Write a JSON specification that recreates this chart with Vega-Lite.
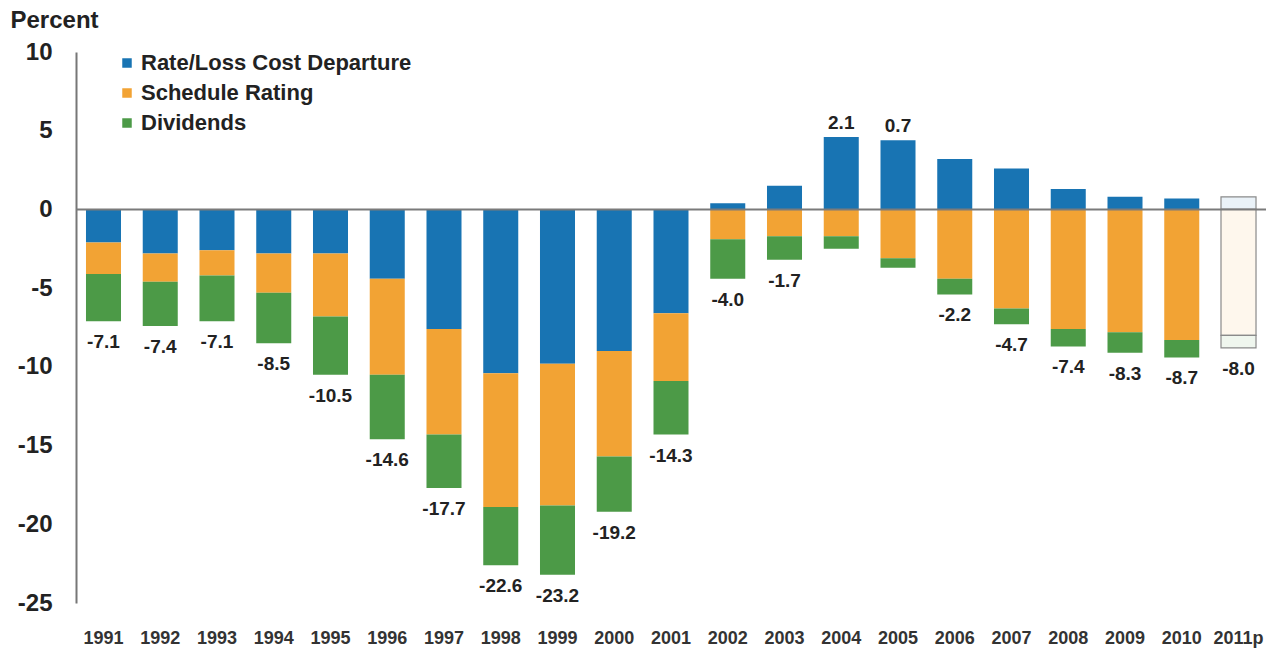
{
  "$schema": "https://vega.github.io/schema/vega-lite/v6.json",
  "width": 1190,
  "height": 551,
  "autosize": {"type": "none"},
  "padding": {"left": 76, "top": 52, "right": 0, "bottom": 51},
  "background": "white",
  "config": {
    "view": {"stroke": null},
    "font": "Liberation Sans"
  },
  "data": {
    "values": [
      {"year": "1991", "series": "Rate/Loss Cost Departure", "value": -2.1},
      {"year": "1991", "series": "Schedule Rating", "value": -2.0},
      {"year": "1991", "series": "Dividends", "value": -3.0},
      {"year": "1992", "series": "Rate/Loss Cost Departure", "value": -2.8},
      {"year": "1992", "series": "Schedule Rating", "value": -1.8},
      {"year": "1992", "series": "Dividends", "value": -2.8},
      {"year": "1993", "series": "Rate/Loss Cost Departure", "value": -2.6},
      {"year": "1993", "series": "Schedule Rating", "value": -1.6},
      {"year": "1993", "series": "Dividends", "value": -2.9},
      {"year": "1994", "series": "Rate/Loss Cost Departure", "value": -2.8},
      {"year": "1994", "series": "Schedule Rating", "value": -2.5},
      {"year": "1994", "series": "Dividends", "value": -3.2},
      {"year": "1995", "series": "Rate/Loss Cost Departure", "value": -2.8},
      {"year": "1995", "series": "Schedule Rating", "value": -4.0},
      {"year": "1995", "series": "Dividends", "value": -3.7},
      {"year": "1996", "series": "Rate/Loss Cost Departure", "value": -4.4},
      {"year": "1996", "series": "Schedule Rating", "value": -6.1},
      {"year": "1996", "series": "Dividends", "value": -4.1},
      {"year": "1997", "series": "Rate/Loss Cost Departure", "value": -7.6},
      {"year": "1997", "series": "Schedule Rating", "value": -6.7},
      {"year": "1997", "series": "Dividends", "value": -3.4},
      {"year": "1998", "series": "Rate/Loss Cost Departure", "value": -10.4},
      {"year": "1998", "series": "Schedule Rating", "value": -8.5},
      {"year": "1998", "series": "Dividends", "value": -3.7},
      {"year": "1999", "series": "Rate/Loss Cost Departure", "value": -9.8},
      {"year": "1999", "series": "Schedule Rating", "value": -9.0},
      {"year": "1999", "series": "Dividends", "value": -4.4},
      {"year": "2000", "series": "Rate/Loss Cost Departure", "value": -9.0},
      {"year": "2000", "series": "Schedule Rating", "value": -6.7},
      {"year": "2000", "series": "Dividends", "value": -3.5},
      {"year": "2001", "series": "Rate/Loss Cost Departure", "value": -6.6},
      {"year": "2001", "series": "Schedule Rating", "value": -4.3},
      {"year": "2001", "series": "Dividends", "value": -3.4},
      {"year": "2002", "series": "Rate/Loss Cost Departure", "value": 0.4},
      {"year": "2002", "series": "Schedule Rating", "value": -1.9},
      {"year": "2002", "series": "Dividends", "value": -2.5},
      {"year": "2003", "series": "Rate/Loss Cost Departure", "value": 1.5},
      {"year": "2003", "series": "Schedule Rating", "value": -1.7},
      {"year": "2003", "series": "Dividends", "value": -1.5},
      {"year": "2004", "series": "Rate/Loss Cost Departure", "value": 4.6},
      {"year": "2004", "series": "Schedule Rating", "value": -1.7},
      {"year": "2004", "series": "Dividends", "value": -0.8},
      {"year": "2005", "series": "Rate/Loss Cost Departure", "value": 4.4},
      {"year": "2005", "series": "Schedule Rating", "value": -3.1},
      {"year": "2005", "series": "Dividends", "value": -0.6},
      {"year": "2006", "series": "Rate/Loss Cost Departure", "value": 3.2},
      {"year": "2006", "series": "Schedule Rating", "value": -4.4},
      {"year": "2006", "series": "Dividends", "value": -1.0},
      {"year": "2007", "series": "Rate/Loss Cost Departure", "value": 2.6},
      {"year": "2007", "series": "Schedule Rating", "value": -6.3},
      {"year": "2007", "series": "Dividends", "value": -1.0},
      {"year": "2008", "series": "Rate/Loss Cost Departure", "value": 1.3},
      {"year": "2008", "series": "Schedule Rating", "value": -7.6},
      {"year": "2008", "series": "Dividends", "value": -1.1},
      {"year": "2009", "series": "Rate/Loss Cost Departure", "value": 0.8},
      {"year": "2009", "series": "Schedule Rating", "value": -7.8},
      {"year": "2009", "series": "Dividends", "value": -1.3},
      {"year": "2010", "series": "Rate/Loss Cost Departure", "value": 0.7},
      {"year": "2010", "series": "Schedule Rating", "value": -8.3},
      {"year": "2010", "series": "Dividends", "value": -1.1},
      {"year": "2011p", "series": "Rate/Loss Cost Departure", "value": 0.8},
      {"year": "2011p", "series": "Schedule Rating", "value": -8.0},
      {"year": "2011p", "series": "Dividends", "value": -0.8}
    ]
  },
  "encoding": {
    "x": {
      "field": "year",
      "type": "nominal",
      "sort": null,
      "scale": {"paddingInner": 0.383, "paddingOuter": 0.176},
      "axis": {
        "title": null,
        "labelAngle": 0,
        "domain": false,
        "ticks": false,
        "labelPadding": 26,
        "labelFontSize": 18,
        "labelFontWeight": "bold",
        "labelColor": "#333333",
        "labelFont": "Liberation Sans"
      }
    }
  },
  "layer": [
    {
      "transform": [
        {"filter": "datum.year !== '2011p'"},
        {"calculate": "indexof(['Rate/Loss Cost Departure','Schedule Rating','Dividends'], datum.series)", "as": "ord"}
      ],
      "mark": {"type": "bar"},
      "encoding": {
        "y": {
          "field": "value",
          "type": "quantitative",
          "stack": "zero",
          "scale": {"domain": [-25, 10], "nice": false},
          "axis": {
            "values": [-25, -20, -15, -10, -5, 0, 5, 10],
            "grid": false,
            "ticks": false,
            "domain": true,
            "domainColor": "#777777",
            "domainWidth": 2,
            "labelPadding": 24,
            "labelFontSize": 24,
            "labelFontWeight": "bold",
            "labelColor": "#222222",
            "labelFont": "Liberation Sans",
            "labelExpr": "replace(datum.label, '\u2212', '-')",
            "title": "Percent",
            "titleAngle": 0,
            "titleAlign": "left",
            "titleBaseline": "alphabetic",
            "titleX": -66,
            "titleY": -25,
            "titleFontSize": 24,
            "titleFontWeight": "bold",
            "titleColor": "#222222",
            "titleFont": "Liberation Sans"
          }
        },
        "color": {
          "field": "series",
          "type": "nominal",
          "scale": {
            "domain": ["Rate/Loss Cost Departure", "Schedule Rating", "Dividends"],
            "range": ["#1874b3", "#f2a334", "#4c9a47"]
          },
          "legend": {
            "title": null,
            "orient": "none",
            "legendX": 40,
            "legendY": 0,
            "padding": 0,
            "symbolType": "square",
            "symbolSize": 90,
            "symbolStrokeWidth": 0,
            "labelFontSize": 22,
            "labelFontWeight": "bold",
            "labelColor": "#222222",
            "labelFont": "Liberation Sans",
            "labelOffset": 3,
            "labelLimit": 0,
            "rowPadding": 8
          }
        },
        "order": {"field": "ord", "type": "quantitative"}
      }
    },
    {
      "transform": [
        {"filter": "datum.year === '2011p'"},
        {"calculate": "indexof(['Rate/Loss Cost Departure','Schedule Rating','Dividends'], datum.series)", "as": "ord"}
      ],
      "mark": {"type": "bar", "fillOpacity": 0.09, "stroke": "#8a8a8a", "strokeWidth": 1.2},
      "encoding": {
        "y": {"field": "value", "type": "quantitative", "stack": "zero"},
        "color": {"field": "series", "type": "nominal"},
        "order": {"field": "ord", "type": "quantitative"}
      }
    },
    {
      "data": {"values": [{"zero": 0}]},
      "mark": {"type": "rule", "color": "#7a7a7a", "strokeWidth": 2},
      "encoding": {
        "x": null,
        "y": {"field": "zero", "type": "quantitative"}
      }
    },
    {
      "transform": [
        {"calculate": "min(datum.value, 0)", "as": "neg"},
        {"aggregate": [
          {"op": "sum", "field": "value", "as": "total"},
          {"op": "sum", "field": "neg", "as": "negsum"}
        ], "groupby": ["year"]},
        {"filter": "datum.total < 0"},
        {"calculate": "replace(format(datum.total, '.1f'), '\u2212', '-')", "as": "label"}
      ],
      "mark": {"type": "text", "baseline": "middle", "align": "center", "dy": 21, "fontSize": 19, "fontWeight": "bold", "color": "#222222", "font": "Liberation Sans"},
      "encoding": {
        "y": {"field": "negsum", "type": "quantitative"},
        "text": {"field": "label"}
      }
    },
    {
      "transform": [
        {"calculate": "max(datum.value, 0)", "as": "pos"},
        {"aggregate": [
          {"op": "sum", "field": "value", "as": "total"},
          {"op": "sum", "field": "pos", "as": "possum"}
        ], "groupby": ["year"]},
        {"filter": "datum.total >= 0"},
        {"calculate": "replace(format(datum.total, '.1f'), '\u2212', '-')", "as": "label"}
      ],
      "mark": {"type": "text", "baseline": "middle", "align": "center", "dy": -14, "fontSize": 19, "fontWeight": "bold", "color": "#222222", "font": "Liberation Sans"},
      "encoding": {
        "y": {"field": "possum", "type": "quantitative"},
        "text": {"field": "label"}
      }
    }
  ]
}
